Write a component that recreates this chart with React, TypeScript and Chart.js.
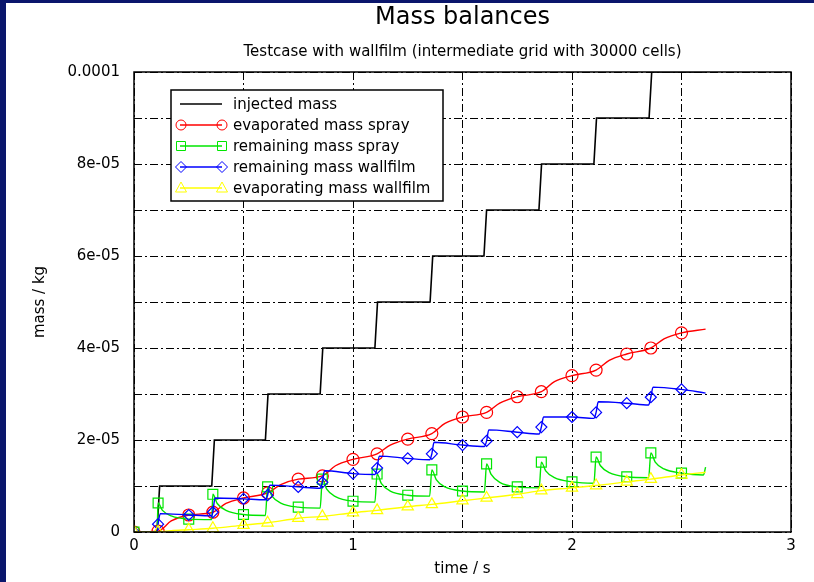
import React, { useEffect, useRef } from 'react';
import { Chart, registerables } from 'chart.js';

Chart.register(...registerables);

// ---------- text ----------
const chartTitle = 'Mass balances';
const chartSubtitle = 'Testcase with wallfilm (intermediate grid with 30000 cells)';
const xAxisTitle = 'time / s';
const yAxisTitle = 'mass / kg';
const xTickLabels = ['0', '1', '2', '3'];
const yTickLabels = ['0', '2e-05', '4e-05', '6e-05', '8e-05', '0.0001'];
const seriesNames = [
  'injected mass',
  'evaporated mass spray',
  'remaining mass spray',
  'remaining mass wallfilm',
  'evaporating mass wallfilm',
];

// ---------- data (time in s, mass in units of 1e-5 kg) ----------
const markerTimes = [0, 0.11, 0.25, 0.36, 0.5, 0.61, 0.75, 0.86, 1.0, 1.11, 1.25, 1.36, 1.5, 1.61, 1.75, 1.86, 2.0, 2.11, 2.25, 2.36, 2.5];

const injectedTime = [0, 0.105, 0.117, 0.355, 0.367, 0.6, 0.612, 0.85, 0.862, 1.1, 1.112, 1.352, 1.364, 1.598, 1.61, 1.849, 1.861, 2.1, 2.112, 2.352, 2.364, 2.61];
const injectedMass = [0, 0, 1, 1, 2, 2, 3, 3, 4, 4, 5, 5, 6, 6, 7, 7, 8, 8, 9, 9, 10, 10];

const evapSprayTime = [0, 0.11, 0.17, 0.25, 0.36, 0.42, 0.5, 0.61, 0.67, 0.75, 0.86, 0.92, 1.0, 1.11, 1.17, 1.25, 1.36, 1.42, 1.5, 1.61, 1.67, 1.75, 1.86, 1.92, 2.0, 2.11, 2.17, 2.25, 2.36, 2.42, 2.5, 2.61];
const evapSprayMass = [0, 0.02, 0.24, 0.37, 0.43, 0.62, 0.74, 0.85, 1.03, 1.15, 1.22, 1.44, 1.58, 1.7, 1.89, 2.02, 2.14, 2.36, 2.5, 2.6, 2.8, 2.94, 3.05, 3.27, 3.4, 3.52, 3.73, 3.87, 4.0, 4.2, 4.33, 4.41];

const remSprayTime = [0, 0.105, 0.11, 0.13, 0.17, 0.25, 0.355, 0.36, 0.38, 0.42, 0.5, 0.6, 0.61, 0.63, 0.67, 0.75, 0.85, 0.86, 0.88, 0.92, 1.0, 1.1, 1.11, 1.13, 1.17, 1.25, 1.35, 1.36, 1.38, 1.42, 1.5, 1.6, 1.61, 1.63, 1.67, 1.75, 1.85, 1.86, 1.88, 1.92, 2.0, 2.1, 2.11, 2.13, 2.17, 2.25, 2.35, 2.36, 2.38, 2.42, 2.5, 2.6, 2.61];
const remSprayMass = [0, 0, 0.63, 0.47, 0.35, 0.28, 0.27, 0.82, 0.62, 0.47, 0.38, 0.36, 0.98, 0.78, 0.63, 0.54, 0.52, 1.15, 0.93, 0.77, 0.67, 0.65, 1.26, 1.05, 0.89, 0.8, 0.78, 1.35, 1.14, 0.98, 0.89, 0.87, 1.48, 1.26, 1.08, 0.98, 0.96, 1.52, 1.33, 1.18, 1.09, 1.06, 1.63, 1.44, 1.29, 1.2, 1.18, 1.72, 1.52, 1.37, 1.28, 1.24, 1.41];

const remFilmTime = [0, 0.105, 0.11, 0.12, 0.25, 0.355, 0.36, 0.37, 0.5, 0.6, 0.61, 0.62, 0.75, 0.85, 0.86, 0.87, 1.0, 1.1, 1.11, 1.12, 1.25, 1.35, 1.36, 1.37, 1.5, 1.6, 1.61, 1.62, 1.75, 1.85, 1.86, 1.87, 2.0, 2.1, 2.11, 2.12, 2.25, 2.35, 2.36, 2.37, 2.5, 2.61];
const remFilmMass = [0, 0, 0.17, 0.4, 0.37, 0.35, 0.43, 0.74, 0.72, 0.7, 0.8, 1.02, 0.98, 0.95, 1.08, 1.33, 1.27, 1.25, 1.39, 1.65, 1.6, 1.57, 1.7, 1.95, 1.89, 1.86, 1.98, 2.22, 2.17, 2.13, 2.28, 2.5, 2.5, 2.47, 2.6, 2.83, 2.8, 2.76, 2.93, 3.15, 3.1, 3.02];

const evapFilmTime = [0, 0.11, 0.17, 0.25, 0.36, 0.5, 0.61, 0.75, 0.86, 1.0, 1.11, 1.25, 1.36, 1.5, 1.61, 1.75, 1.86, 2.0, 2.11, 2.25, 2.36, 2.5, 2.61];
const evapFilmMass = [0, 0, 0.03, 0.05, 0.08, 0.15, 0.2, 0.3, 0.34, 0.42, 0.47, 0.55, 0.6, 0.68, 0.74, 0.82, 0.9, 0.96, 1.01, 1.09, 1.15, 1.24, 1.3];

// ---------- styles ----------
const FONT = "'DejaVu Sans', sans-serif";
const NAVY = '#0a166c';
const seriesColors = ['#000000', '#ff0000', '#00e600', '#0000ff', '#ffff00'];
const seriesMarkers: (string | null)[] = [null, 'circle', 'rect', 'rectRot', 'triangle'];
const markerRadii = [0, 6, 7, 5.5, 6.5];

function drawMarker(ctx: CanvasRenderingContext2D, kind: string, x: number, y: number) {
  ctx.beginPath();
  if (kind === 'circle') {
    ctx.arc(x, y, 5, 0, Math.PI * 2);
  } else if (kind === 'rect') {
    ctx.rect(x - 4.5, y - 4.5, 9, 9);
  } else if (kind === 'rectRot') {
    ctx.moveTo(x - 5.5, y);
    ctx.lineTo(x, y - 5.5);
    ctx.lineTo(x + 5.5, y);
    ctx.lineTo(x, y + 5.5);
    ctx.closePath();
  } else if (kind === 'triangle') {
    ctx.moveTo(x, y - 6);
    ctx.lineTo(x + 5.5, y + 4);
    ctx.lineTo(x - 5.5, y + 4);
    ctx.closePath();
  }
  ctx.stroke();
}

const decorPlugin = {
  id: 'decor',
  beforeDraw(chart: any) {
    const { ctx, width, height } = chart;
    ctx.save();
    ctx.fillStyle = NAVY;
    ctx.fillRect(0, 0, width, height);
    ctx.fillStyle = '#ffffff';
    ctx.fillRect(6, 3, width - 6, height - 3);
    ctx.restore();
  },
  afterDatasetsDraw(chart: any) {
    const { ctx, chartArea } = chart;
    const { left, top, right, bottom } = chartArea;
    ctx.save();
    // frame
    ctx.strokeStyle = '#000';
    ctx.lineWidth = 1.5;
    ctx.strokeRect(left, top, right - left, bottom - top);
    // titles
    const cx = (left + right) / 2;
    ctx.fillStyle = '#000';
    ctx.textAlign = 'center';
    ctx.textBaseline = 'middle';
    ctx.font = `24px ${FONT}`;
    ctx.fillText(chartTitle, cx, 18);
    ctx.font = `15px ${FONT}`;
    ctx.fillText(chartSubtitle, cx, 52);
    // legend
    const lx = 171, ly = 90, lw = 272, lh = 111;
    ctx.fillStyle = '#fff';
    ctx.fillRect(lx, ly, lw, lh);
    ctx.lineWidth = 1.5;
    ctx.strokeStyle = '#000';
    ctx.strokeRect(lx, ly, lw, lh);
    ctx.font = `15px ${FONT}`;
    ctx.textAlign = 'left';
    seriesNames.forEach((name, i) => {
      const y = 104 + i * 21;
      ctx.strokeStyle = seriesColors[i];
      ctx.lineWidth = 1.3;
      ctx.beginPath();
      ctx.moveTo(180, y);
      ctx.lineTo(222, y);
      ctx.stroke();
      const mk = seriesMarkers[i];
      if (mk) {
        ctx.lineWidth = 1;
        drawMarker(ctx, mk, 181, y);
        drawMarker(ctx, mk, 222, y);
      }
      ctx.fillStyle = '#000';
      ctx.fillText(name, 233, y + 1);
    });
    ctx.restore();
  },
};

export default function App() {
  const ref = useRef<HTMLCanvasElement>(null);

  useEffect(() => {
    document.body.style.margin = '0';
    const toPts = (xs: number[], ys: number[]) => xs.map((x, i) => ({ x, y: ys[i] }));
    const isMarker = (x: number) => markerTimes.some((t) => Math.abs(t - x) < 1e-6);
    const timeArrays = [injectedTime, evapSprayTime, remSprayTime, remFilmTime, evapFilmTime];
    const massArrays = [injectedMass, evapSprayMass, remSprayMass, remFilmMass, evapFilmMass];

    const datasets = seriesNames.map((name, i) => ({
      label: name,
      data: toPts(timeArrays[i], massArrays[i]),
      borderColor: seriesColors[i],
      backgroundColor: 'transparent',
      borderWidth: i === 0 ? 1.6 : 1.4,
      pointStyle: (seriesMarkers[i] || 'circle') as any,
      pointRadius: (c: any) => (seriesMarkers[i] && c.raw && isMarker(c.raw.x) ? markerRadii[i] : 0),
      pointBorderColor: seriesColors[i],
      pointBackgroundColor: 'transparent',
      pointBorderWidth: 1.2,
      tension: 0,
      cubicInterpolationMode: (i === 0 ? 'default' : 'monotone') as any,
      fill: false,
      order: 5 - i,
    }));

    const tickFont = { family: FONT, size: 15 };
    const dash = [8, 3, 2, 3];

    const chart = new Chart(ref.current as HTMLCanvasElement, {
      type: 'line',
      data: { datasets },
      options: {
        responsive: false,
        animation: false,
        events: [],
        layout: { padding: { top: 72, left: 6, right: 23, bottom: 0 } },
        plugins: {
          legend: { display: false },
          title: { display: false },
          tooltip: { enabled: false },
        },
        scales: {
          x: {
            type: 'linear',
            min: 0,
            max: 3,
            ticks: {
              stepSize: 0.5,
              autoSkip: false,
              maxRotation: 0,
              padding: 5,
              color: '#000',
              font: tickFont,
              callback: (v: any) => {
                const n = Number(v);
                return Math.abs(n - Math.round(n)) < 1e-9 ? xTickLabels[Math.round(n)] : '';
              },
            },
            grid: { color: '#000', lineWidth: 1, drawTicks: false },
            border: { display: false, dash },
            title: {
              display: true,
              text: xAxisTitle,
              color: '#000',
              font: tickFont,
              padding: { top: 0, bottom: 4 },
            },
            afterFit: (s: any) => {
              s.height = 50;
            },
          },
          y: {
            type: 'linear',
            min: 0,
            max: 10,
            ticks: {
              stepSize: 1,
              autoSkip: false,
              padding: 14,
              color: '#000',
              font: tickFont,
              callback: (v: any) => {
                const n = Math.round(Number(v));
                return n % 2 === 0 ? yTickLabels[n / 2] : '';
              },
            },
            grid: { color: '#000', lineWidth: 1, drawTicks: false },
            border: { display: false, dash },
            title: {
              display: true,
              text: yAxisTitle,
              color: '#000',
              font: tickFont,
              padding: { top: 25, bottom: 0 },
            },
            afterFit: (s: any) => {
              s.width = 128;
            },
          },
        },
      },
      plugins: [decorPlugin],
    });

    return () => chart.destroy();
  }, []);

  return (
    <div style={{ width: 814, height: 582 }}>
      <canvas ref={ref} width={814} height={582} style={{ display: 'block' }} />
    </div>
  );
}
